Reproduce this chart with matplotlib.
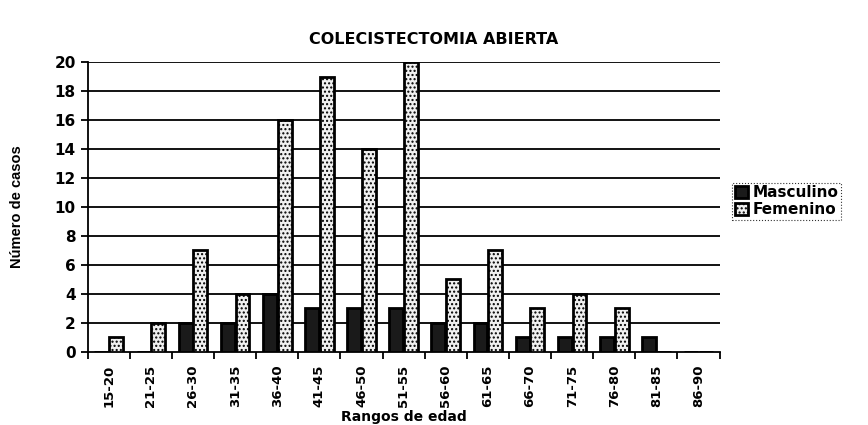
import numpy as np
import matplotlib.pyplot as plt

rangos = ["15-20", "21-25", "26-30", "31-35", "36-40", "41-45", "46-50", "51-55",
          "56-60", "61-65", "66-70", "71-75", "76-80", "81-85", "86-90"]
masculino = [0, 0, 2, 2, 4, 3, 3, 3, 2, 2, 1, 1, 1, 1, 0]
femenino = [1, 2, 7, 4, 16, 19, 14, 20, 5, 7, 3, 4, 3, 0, 0]

plt.rcParams['font.family'] = ['DejaVu Sans']
plt.rcParams['hatch.color'] = '#8a8a8a'
plt.rcParams['hatch.linewidth'] = 1.0

fig = plt.figure(figsize=(8.68, 4.25), dpi=100)
ax = fig.add_axes([0.101, 0.172, 0.728, 0.682])

x = np.arange(len(rangos))
w = 0.33
ax.bar(x - w / 2 - 0.01, masculino, width=w, color='#1a1a1a', edgecolor='black',
       linewidth=2, label='Masculino', zorder=3)
ax.bar(x + w / 2 + 0.01, femenino, width=w, color='#f0f0f0', edgecolor='black',
       linewidth=2, hatch='....', label='Femenino', zorder=3)

ax.set_xlim(-0.5, len(rangos) - 0.5)
ax.set_ylim(0, 20)
ax.set_yticks(range(0, 21, 2))
for yv in range(2, 21, 2):
    ax.axhline(yv, color='black', linewidth=1.3, zorder=1)

ax.set_xticks(x)
ax.set_xticklabels(rangos, rotation=90, fontsize=9.5, fontweight='bold')
ax.set_xticks(np.arange(-0.5, len(rangos), 1), minor=True)
ax.tick_params(axis='x', which='major', length=0, pad=9)
ax.tick_params(axis='x', which='minor', length=5, width=1.3, direction='out')
ax.tick_params(axis='y', length=5, width=1.3, labelsize=11)
for t in ax.get_yticklabels():
    t.set_fontweight('bold')

ax.spines['top'].set_visible(False)
ax.spines['right'].set_visible(False)
ax.spines['left'].set_linewidth(1.3)
ax.spines['bottom'].set_linewidth(1.3)

ax.set_xlabel("Rangos de edad", fontsize=10, fontweight='bold', labelpad=2)
ax.set_ylabel("Número de casos", fontsize=10.5, fontweight='bold', labelpad=22,
              family='Liberation Sans')
fig.suptitle("COLECISTECTOMIA ABIERTA", fontsize=11.5, fontweight='bold', y=0.925)

leg = ax.legend(loc='center left', bbox_to_anchor=(1.02, 0.52), frameon=True,
                fancybox=False, edgecolor='black',
                prop={'weight': 'bold', 'size': 11},
                handlelength=0.9, handleheight=0.8, handletextpad=0.3,
                borderpad=0.15, labelspacing=0.15, borderaxespad=0)
leg.get_frame().set_linewidth(0.8)
leg.get_frame().set_linestyle(':')

fig.savefig("out.png", dpi=100)
